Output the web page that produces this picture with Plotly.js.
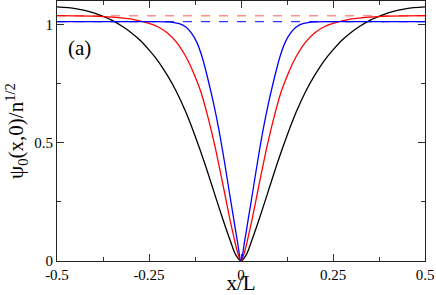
<!DOCTYPE html>
<html><head><meta charset="utf-8">
<script src="https://cdn.plot.ly/plotly-3.0.1.min.js"></script>
<style>html,body{margin:0;padding:0;background:#fff}#plot{width:436px;height:295px}</style>
</head><body><div id="plot"></div>
<script>
const blackX = [-0.5,-0.45,-0.4,-0.375,-0.35,-0.325,-0.3,-0.275,-0.25,-0.225,-0.2,-0.175,-0.15,-0.125,-0.1,-0.075,-0.05,-0.03,-0.015,0,0.015,0.03,0.05,0.075,0.1,0.125,0.15,0.175,0.2,0.225,0.25,0.275,0.3,0.325,0.35,0.375,0.4,0.45,0.5];
const blackY = [1.075,1.068,1.05,1.035,1.018,0.995,0.968,0.935,0.893,0.845,0.785,0.715,0.63,0.53,0.42,0.3,0.18,0.09,0.028,0,0.028,0.09,0.18,0.3,0.42,0.53,0.63,0.715,0.785,0.845,0.893,0.935,0.968,0.995,1.018,1.035,1.05,1.068,1.075];
const redX = [-0.5,-0.4,-0.35,-0.3,-0.25,-0.225,-0.2,-0.175,-0.15,-0.13,-0.11,-0.09,-0.07,-0.05,-0.03,-0.02,-0.01,0,0.01,0.02,0.03,0.05,0.07,0.09,0.11,0.13,0.15,0.175,0.2,0.225,0.25,0.3,0.35,0.4,0.5];
const redY = [1.038,1.036,1.032,1.024,1.005,0.99,0.965,0.925,0.865,0.8,0.72,0.61,0.48,0.33,0.175,0.105,0.04,0,0.04,0.105,0.175,0.33,0.48,0.61,0.72,0.8,0.865,0.925,0.965,0.99,1.005,1.024,1.032,1.036,1.038];
const blueX = [-0.5,-0.25,-0.2,-0.17,-0.15,-0.135,-0.12,-0.105,-0.09,-0.075,-0.06,-0.045,-0.03,-0.02,-0.01,0,0.01,0.02,0.03,0.045,0.06,0.075,0.09,0.105,0.12,0.135,0.15,0.17,0.2,0.25,0.5];
const blueY = [1.013,1.013,1.012,1.005,0.99,0.965,0.925,0.86,0.77,0.67,0.555,0.42,0.275,0.18,0.085,0,0.085,0.18,0.275,0.42,0.555,0.67,0.77,0.86,0.925,0.965,0.99,1.005,1.012,1.013,1.013];
const refX = [-0.5, 0.5];
const redRef = [1.038, 1.038];
const blueRef = [1.013, 1.013];

const traces = [
  {x: refX, y: redRef, mode:'lines', line:{color:'#ff9090', width:1.5, dash:'dash'}},
  {x: refX, y: blueRef, mode:'lines', line:{color:'#3535ff', width:1.2, dash:'dash'}},
  {x: blackX, y: blackY, mode:'lines', line:{color:'black', width:1.3, shape:'spline', smoothing:0.8}},
  {x: redX, y: redY, mode:'lines', line:{color:'#ff0000', width:1.3, shape:'spline', smoothing:0.8}},
  {x: blueX, y: blueY, mode:'lines', line:{color:'#0000ff', width:1.3, shape:'spline', smoothing:0.8}}
];
const FAM = 'Liberation Serif';
const layout = {
  width:436, height:295, showlegend:false,
  paper_bgcolor:'white', plot_bgcolor:'white',
  margin:{l:57, r:11, t:1, b:34},
  font:{family:FAM, size:15, color:'black'},
  xaxis:{range:[-0.5,0.5], tickvals:[-0.5,-0.25,0,0.25,0.5], ticktext:['-0.5','-0.25','0','0.25','0.5'],
    ticks:'inside', ticklen:7, tickcolor:'#333', showline:true, linecolor:'#222', linewidth:1, mirror:'allticks',
    showgrid:false, zeroline:false, tickfont:{family:FAM, size:15, color:'black'},
    minor:{tickvals:[-0.375,-0.125,0.125,0.375], ticks:'inside', ticklen:4, tickcolor:'#333'},
    title:{text:'x/L', font:{family:FAM, size:21, color:'black'}, standoff:2}},
  yaxis:{range:[0,1.1], tickvals:[0,0.5,1], ticktext:['0','0.5','1'],
    ticks:'inside', ticklen:7, tickcolor:'#333', showline:true, linecolor:'#222', linewidth:1, mirror:'allticks',
    showgrid:false, zeroline:false, tickfont:{family:FAM, size:15, color:'black'},
    minor:{tickvals:[0.25,0.75], ticks:'inside', ticklen:4, tickcolor:'#333'},
    title:{text:'ψ<sub>0</sub>(x,0)/n<sup>1/2</sup>', font:{family:FAM, size:21, color:'black'}, standoff:4}},
  annotations:[{text:'(a)', xref:'paper', yref:'paper', x:0.025, y:0.82, xanchor:'left', yanchor:'middle', showarrow:false, font:{family:FAM, size:21, color:'black'}}]
};
Plotly.newPlot('plot', traces, layout, {staticPlot:true, displayModeBar:false});
</script></body></html>
